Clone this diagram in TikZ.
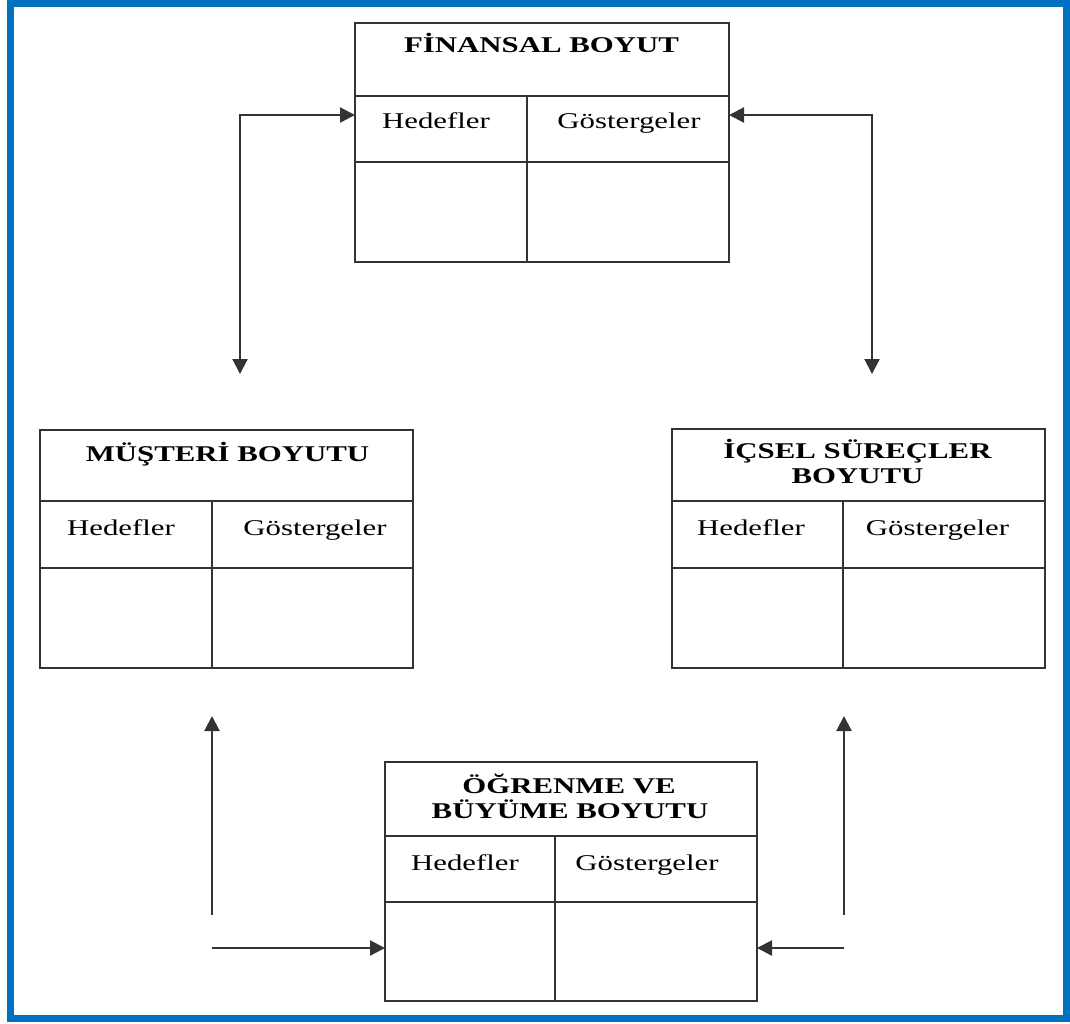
\documentclass[tikz,border=0pt]{standalone}
\usepackage{fontspec}
\usepackage{graphicx}
\setmainfont{Liberation Serif}
\usetikzlibrary{arrows.meta,fit}
\definecolor{frameblue}{HTML}{0070C0}
\definecolor{ink}{HTML}{333333}
% the lettering is set wide
\newcommand\widetext[1]{\scalebox{1.37}[1]{#1}}
\tikzset{
  cardframe/.style={draw=ink, line width=2.2pt, inner sep=0pt},
  cardline/.style={draw=ink, line width=2.2pt},
  head/.style={font=\fontsize{22.5}{25}\selectfont\bfseries, anchor=base, text=black, inner sep=0pt},
  cell/.style={font=\fontsize{22.5}{25}\selectfont, anchor=base, text=black, inner sep=0pt},
  link/.style={draw=ink, line width=2.2pt, -{Triangle[length=15pt,width=15pt]}},
  biglink/.style={draw=ink, line width=2.2pt, {Triangle[length=15pt,width=15pt]}-{Triangle[length=15pt,width=15pt]}}
}
% a scorecard panel: name, left, top, right, bottom, divider x, header bottom, row bottom
\newcommand\cardpanel[8]{%
  \node[cardframe, fit={(#2,#3)(#4,#5)}] (#1) {};
  \draw[cardline] (#2,#7) -- (#4,#7);
  \draw[cardline] (#2,#8) -- (#4,#8);
  \draw[cardline] (#6,#7) -- (#6,#5);
}
\begin{document}
\begin{tikzpicture}[x=1pt,y=-1pt]
\useasboundingbox (0,0) rectangle (1070,1023);
\draw[frameblue, line width=7pt] (10.5,3.5) rectangle (1066.5,1018.5);

% Financial perspective
\cardpanel{fin}{355}{22.7}{729}{262}{527}{96}{162}
\node[head] (finT) at (541.5,52) {\widetext{FİNANSAL BOYUT}};
\node[cell] (finH) at (436,128) {\widetext{Hedefler}};
\node[cell] (finG) at (629,128) {\widetext{Göstergeler}};

% Customer perspective
\cardpanel{mus}{40}{430}{413}{668}{212}{501}{568}
\node[head] (musT) at (227.5,461) {\widetext{MÜŞTERİ BOYUTU}};
\node[cell] (musH) at (121,535) {\widetext{Hedefler}};
\node[cell] (musG) at (315,535) {\widetext{Göstergeler}};

% Internal processes perspective
\cardpanel{ics}{672}{429}{1045}{668}{843}{501}{568}
\node[head] (icsT) at (857.5,458) {\widetext{İÇSEL SÜREÇLER}};
\node[head] (icsT2) at (857.5,483) {\widetext{BOYUTU}};
\node[cell] (icsH) at (751,535) {\widetext{Hedefler}};
\node[cell] (icsG) at (937.5,535) {\widetext{Göstergeler}};

% Learning and growth perspective
\cardpanel{ogr}{385}{762}{757}{1001}{555}{836}{902}
\node[head] (ogrT) at (569,793) {\widetext{ÖĞRENME VE}};
\node[head] (ogrT2) at (570,818) {\widetext{BÜYÜME BOYUTU}};
\node[cell] (ogrH) at (465,870) {\widetext{Hedefler}};
\node[cell] (ogrG) at (647,870) {\widetext{Göstergeler}};

% connector end points
\coordinate (finL) at (355,115);
\coordinate (finR) at (729,115);
\coordinate (musTop) at (240,374);
\coordinate (icsTop) at (872,374);
\coordinate (blLow) at (212,915);
\coordinate (blHigh) at (212,716);
\coordinate (blStart) at (212,948);
\coordinate (ogrL) at (385,948);
\coordinate (brLow) at (844,915);
\coordinate (brHigh) at (844,716);
\coordinate (brStart) at (844,948);
\coordinate (ogrR) at (757,948);

\draw[biglink] (musTop) |- (finL);
\draw[biglink] (finR) -| (icsTop);
\draw[link] (blLow) -- (blHigh);
\draw[link] (blStart) -- (ogrL);
\draw[link] (brLow) -- (brHigh);
\draw[link] (brStart) -- (ogrR);
\end{tikzpicture}
\end{document}
